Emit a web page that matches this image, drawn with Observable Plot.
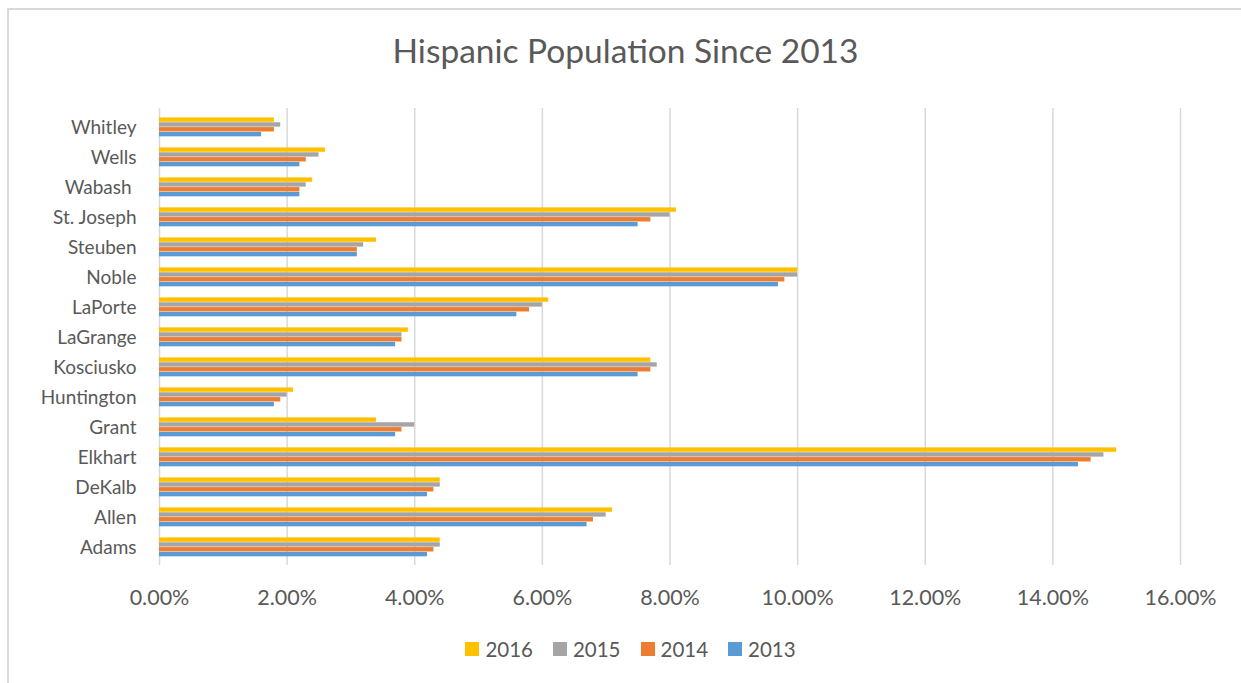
<!DOCTYPE html>
<html>
<head>
<meta charset="utf-8">
<script src="https://cdn.jsdelivr.net/npm/d3@7"></script>
<script src="https://cdn.jsdelivr.net/npm/@observablehq/plot@0.6"></script>
<style>
  html, body { margin: 0; padding: 0; background: #fff; overflow: hidden; }
  #wrap { position: relative; width: 1241px; height: 683px; overflow: hidden; font-family: Lato, "Open Sans", sans-serif; }
  #frame { position: absolute; left: 7px; top: 8px; width: 1400px; height: 900px; border: 2px solid #d9d9d9; box-sizing: border-box; }
  #title { position: absolute; left: 0; width: 1251px; top: 30px; text-align: center; font-size: 33.5px; color: #595959; }
  #chart { position: absolute; left: 0; top: 90px; }
  #chart svg text { white-space: pre; }
  #legend { position: absolute; left: 10px; width: 1241px; top: 637px; display: flex; justify-content: center; align-items: center; font-size: 20.5px; color: #595959; }
  .item { display: flex; align-items: center; margin: 0 10px; }
  .sw { width: 14px; height: 14px; margin-right: 6px; }
</style>
</head>
<body>
<div id="wrap">
  <div id="frame"></div>
  <div id="title">Hispanic Population Since 2013</div>
  <div id="chart"></div>
  <div id="legend"></div>
</div>
<script>
const counties = ["Adams","Allen","DeKalb","Elkhart","Grant","Huntington","Kosciusko","LaGrange","LaPorte","Noble","Steuben","St. Joseph","Wabash ","Wells","Whitley"];
const v2013 = [4.2,6.7,4.2,14.4,3.7,1.8,7.5,3.7,5.6,9.7,3.1,7.5,2.2,2.2,1.6];
const v2014 = [4.3,6.8,4.3,14.6,3.8,1.9,7.7,3.8,5.8,9.8,3.1,7.7,2.2,2.3,1.8];
const v2015 = [4.4,7.0,4.4,14.8,4.0,2.0,7.8,3.8,6.0,10.0,3.2,8.0,2.3,2.5,1.9];
const v2016 = [4.4,7.1,4.4,15.0,3.4,2.1,7.7,3.9,6.1,10.0,3.4,8.1,2.4,2.6,1.8];
const years = ["2016","2015","2014","2013"];
const seriesValues = {"2016": v2016, "2015": v2015, "2014": v2014, "2013": v2013};
const colors = {"2016": "#FFC000", "2015": "#A5A5A5", "2014": "#ED7D31", "2013": "#5B9BD5"};
const xTicks = [0,2,4,6,8,10,12,14,16];

const W = 1241, H = 540, mT = 18, mB = 65, mL = 159, mR = 61;
const bw = (H - mT - mB) / counties.length;
const groupTop = 5.4, barH = 4.85;

const barMarks = years.map((yr, i) => {
  const data = counties.map((c, j) => ({county: c, value: seriesValues[yr][j]}));
  const top = groupTop + barH * i;
  return Plot.barX(data, {
    y: "county", x: "value", fill: colors[yr],
    insetTop: top, insetBottom: bw - top - barH
  });
});

const chart = Plot.plot({
  width: W, height: H,
  marginTop: mT, marginBottom: mB, marginLeft: mL, marginRight: mR,
  style: {fontFamily: "Lato, 'Open Sans', sans-serif", fontSize: "20px", color: "#595959", background: "transparent"},
  x: {domain: [0, 16], ticks: xTicks, tickFormat: d => d.toFixed(2) + "%", tickSize: 0, tickPadding: 24, label: null},
  y: {domain: counties.slice().reverse(), padding: 0, tickSize: 0, tickPadding: 23, label: null},
  marks: [
    Plot.ruleX(xTicks, {stroke: "#d9d9d9", strokeWidth: 1.5}),
    ...barMarks
  ]
});
chart.querySelectorAll('g[aria-label="x-axis tick label"] text').forEach(t => t.style.fontSize = "21.5px");
chart.querySelectorAll('g[aria-label="y-axis tick label"] text').forEach(t => t.style.fontSize = "19px");
document.getElementById("chart").appendChild(chart);

const legend = document.getElementById("legend");
years.forEach(yr => {
  const it = document.createElement("div");
  it.className = "item";
  const sw = document.createElement("div");
  sw.className = "sw";
  sw.style.background = colors[yr];
  const t = document.createElement("span");
  t.textContent = yr;
  it.appendChild(sw); it.appendChild(t);
  legend.appendChild(it);
});
</script>
</body>
</html>
